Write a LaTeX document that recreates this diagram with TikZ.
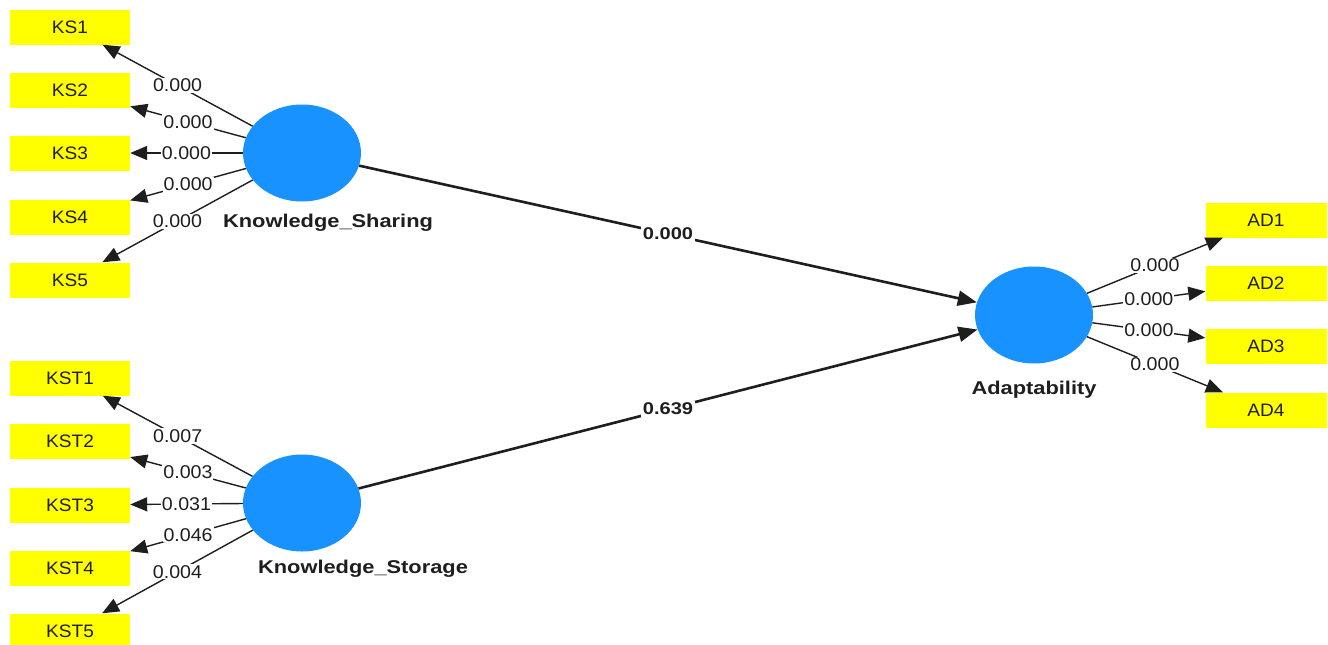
\documentclass[tikz,border=0pt]{standalone}
\usepackage{fontspec}
\setmainfont{Liberation Sans}[FakeStretch=1.06]
\newfontfamily\latentfont{Liberation Sans}[FakeStretch=1.18]
\usetikzlibrary{shapes.geometric,arrows.meta}
\definecolor{latentblue}{RGB}{24,146,255}
\definecolor{itemyellow}{RGB}{255,255,0}
\definecolor{ink}{RGB}{30,30,30}
\tikzset{
  item/.style={rectangle,fill=itemyellow,minimum width=120pt,minimum height=35pt,
    inner sep=0pt,font=\fontsize{18}{20}\selectfont,text=ink},
  latent/.style={ellipse,fill=latentblue,minimum width=118pt,minimum height=97pt,inner sep=0pt},
  latentname/.style={font=\latentfont\bfseries\fontsize{18.5}{20}\selectfont,text=ink},
  loading/.style={draw=ink,line width=1.4pt,-{Triangle[length=17pt,width=14pt]}},
  path/.style={draw=ink,line width=2.6pt,-{Triangle[length=19pt,width=15pt]}},
  val/.style={fill=white,inner sep=1pt,font=\fontsize{18.5}{20}\selectfont,text=ink},
  pathval/.style={fill=white,inner sep=1.5pt,font=\latentfont\bfseries\fontsize{17}{19}\selectfont,text=ink}
}
\begin{document}
\begin{tikzpicture}[x=1pt,y=-1pt]
\useasboundingbox (0,0) rectangle (1328,645);

% latent variables
\node[latent] (ksh) at (302,153) {};
\node[latent] (kst) at (302,503) {};
\node[latent] (ada) at (1034,315) {};
\node[latentname] (lksh) at (328,223) {Knowledge\_Sharing};
\node[latentname] (lkst) at (363,569) {Knowledge\_Storage};
\node[latentname] (lada) at (1034,390) {Adaptability};

% indicators of Knowledge_Sharing
\node[item] (ks1) at (70,27) {KS1};
\node[item] (ks2) at (70,90) {KS2};
\node[item] (ks3) at (70,153) {KS3};
\node[item] (ks4) at (70,217) {KS4};
\node[item] (ks5) at (70,280) {KS5};

% indicators of Knowledge_Storage
\node[item] (kst1) at (70,378) {KST1};
\node[item] (kst2) at (70,441) {KST2};
\node[item] (kst3) at (70,505) {KST3};
\node[item] (kst4) at (70,568) {KST4};
\node[item] (kst5) at (70,631) {KST5};

% indicators of Adaptability
\node[item,minimum width=121pt] (ad1) at (1266,220) {AD1};
\node[item,minimum width=121pt] (ad2) at (1266,283) {AD2};
\node[item,minimum width=121pt] (ad3) at (1266,346) {AD3};
\node[item,minimum width=121pt] (ad4) at (1266,410) {AD4};

% outer loadings
\draw[loading] (ksh) -- node[val] {0.000} (ks1);
\draw[loading] (ksh) -- node[val] {0.000} (ks2);
\draw[loading] (ksh) -- node[val] {0.000} (ks3);
\draw[loading] (ksh) -- node[val] {0.000} (ks4);
\draw[loading] (ksh) -- node[val] {0.000} (ks5);

\draw[loading] (kst) -- node[val] {0.007} (kst1);
\draw[loading] (kst) -- node[val] {0.003} (kst2);
\draw[loading] (kst) -- node[val] {0.031} (kst3);
\draw[loading] (kst) -- node[val] {0.046} (kst4);
\draw[loading] (kst) -- node[val] {0.004} (kst5);

\draw[loading] (ada) -- node[val] {0.000} (ad1);
\draw[loading] (ada) -- node[val] {0.000} (ad2);
\draw[loading] (ada) -- node[val] {0.000} (ad3);
\draw[loading] (ada) -- node[val] {0.000} (ad4);

% structural paths
\draw[path] (ksh) -- node[pathval] {0.000} (ada);
\draw[path] (kst) -- node[pathval] {0.639} (ada);
\end{tikzpicture}
\end{document}
